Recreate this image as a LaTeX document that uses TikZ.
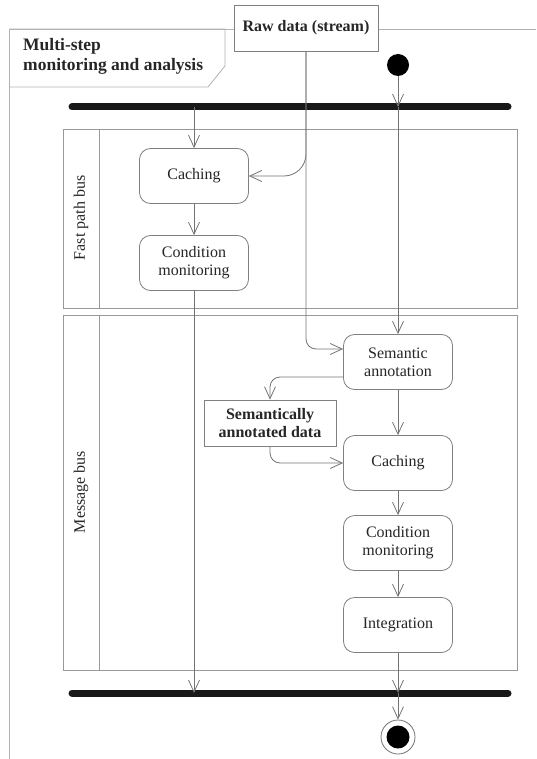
\documentclass[tikz,border=0pt]{standalone}
\usepackage{fontspec}
\setmainfont{Liberation Serif}
\usetikzlibrary{arrows.meta}
\begin{document}
\begin{tikzpicture}[x=1pt,y=-1pt,
  conn/.style={draw=black!55, line width=0.8pt},
  arr/.style={conn, -{Straight Barb[length=12pt,width=11pt,line width=0.8pt]}},
  act/.style={draw=black!50, line width=0.8pt, rounded corners=11pt, minimum width=109pt, minimum height=55pt, align=center, font=\fontsize{16}{18}\selectfont, text=black!85, fill=white, inner sep=2pt},
  obj/.style={draw=black!50, line width=0.8pt, align=center, font=\bfseries\fontsize{16}{18}\selectfont, text=black!85, fill=white, inner sep=2pt},
  bar/.style={line width=7pt, line cap=round, draw=black!90},
  lane/.style={draw=black!40, line width=0.8pt},
  frame/.style={draw=black!30, line width=0.8pt},
  lanelabel/.style={rotate=90, font=\fontsize{16}{18}\selectfont, text=black!85},
]
\useasboundingbox (0,0) rectangle (536,759);

% outer frame
\draw[frame] (536,29) -- (9,29) -- (9,759);
\draw[frame] (9,29) -- (225,29) -- (225,66) -- (208,87) -- (9,87);
\node[anchor=north west, align=left, font=\bfseries\fontsize{17.5}{20}\selectfont, text=black!85, inner sep=0] (title) at (23,38) {Multi-step\\monitoring and analysis};

% swimlanes
\draw[lane] (63,129) rectangle (517,308);
\draw[lane] (99,129) -- (99,308);
\draw[lane] (63,315) rectangle (517,670);
\draw[lane] (99,315) -- (99,670);
\node[lanelabel] (lfast) at (81,218) {Fast path bus};
\node[lanelabel] (lmsg) at (81,492) {Message bus};

% bars
\coordinate (forkL) at (72,107);
\coordinate (forkR) at (508,107);
\coordinate (joinL) at (72,693);
\coordinate (joinR) at (508,693);
\draw[bar] (forkL) -- (forkR);
\draw[bar] (joinL) -- (joinR);

% nodes
\node[obj, minimum width=144pt, minimum height=46pt] (raw) at (306,28) {Raw data (stream)};
\node[circle, fill=black, minimum size=22pt, inner sep=0] (init) at (398,65) {};
\node[act] (c1) at (194,176) {Caching};
\node[act] (cm1) at (194,263) {Condition\\monitoring};
\node[act] (sa) at (398,362) {Semantic\\annotation};
\node[obj, minimum width=132pt, minimum height=46pt] (sad) at (270,423) {Semantically\\annotated data};
\node[act] (c2) at (398,463) {Caching};
\node[act] (cm2) at (398,543) {Condition\\monitoring};
\node[act] (integ) at (398,625) {Integration};
\node[circle, draw=black!55, line width=0.8pt, fill=white, minimum size=34pt, inner sep=0] (fin) at (398,737) {};
\node[circle, fill=black, minimum size=23pt, inner sep=0] (finin) at (fin) {};

% connectors
\draw[arr] (init) -- (init |- forkL);
\draw[arr] (c1 |- forkL) -- (c1.north);
\draw[arr] (c1) -- (cm1);
\draw[arr] (cm1) -- (cm1 |- joinL);
\draw[arr] (sa |- forkL) -- (sa.north);
\draw[arr, rounded corners=22pt] (raw.south) |- (c1.east);
\draw[arr, rounded corners=10pt] (raw.south) |- ([yshift=13pt]sa.west);
\draw[arr, rounded corners=10pt] ([yshift=-15pt]sa.west) -| (sad.north);
\draw[arr, rounded corners=10pt] (sad.south) |- (c2.west);
\draw[arr] (sa) -- (c2);
\draw[arr] (c2) -- (cm2);
\draw[arr] (cm2) -- (integ);
\draw[arr] (integ) -- (integ |- joinL);
\draw[arr] (fin |- joinL) -- (fin.north);
\end{tikzpicture}
\end{document}
